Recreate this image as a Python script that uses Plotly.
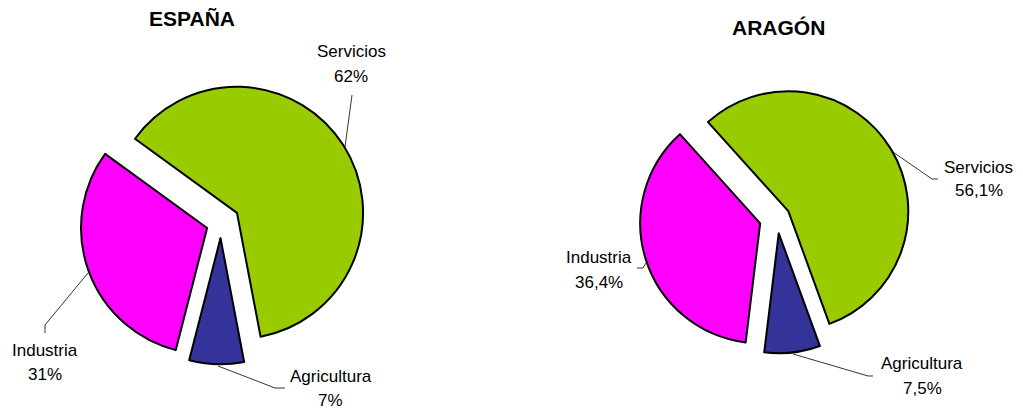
import plotly.graph_objects as go

W, H = 1023, 414

# ---- data ----
categories = ["Servicios", "Agricultura", "Industria"]
espana_values = [62, 7, 31]
aragon_values = [56.1, 7.5, 36.4]
colors = ["#99CC00", "#333399", "#FF00FF"]
titles = ["ESPAÑA", "ARAGÓN"]

FONT = "Liberation Sans, Arial, sans-serif"
LABEL_SIZE = 17


def fx(x):
    return x / W


def fy(y):
    return 1 - y / H


def pct(v):
    return f"{v:g}".replace(".", ",") + "%"


fig = go.Figure()

# España pie: center ~ (221,223), radius 126
fig.add_trace(go.Pie(
    labels=categories, values=espana_values, sort=False,
    direction="clockwise", rotation=-54,
    pull=[0.15, 0.12, 0.117],
    marker=dict(colors=colors, line=dict(color="black", width=2)),
    textinfo="none", hoverinfo="label+percent", showlegend=False,
    domain=dict(x=[fx(221 - 145), fx(221 + 145)], y=[fy(223 + 145), fy(223 - 145)]),
))

# Aragón pie: center ~ (777,218), radius 120
fig.add_trace(go.Pie(
    labels=categories, values=aragon_values, sort=False,
    direction="clockwise", rotation=-42,
    pull=[0.11, 0.128, 0.147],
    marker=dict(colors=colors, line=dict(color="black", width=2)),
    textinfo="none", hoverinfo="label+percent", showlegend=False,
    domain=dict(x=[fx(777 - 137.6), fx(777 + 137.6)], y=[fy(218 + 137.6), fy(218 - 137.6)]),
))

annotations = []
shapes = []

# titles
for t, (x, y) in zip(titles, [(191.5, 19), (778, 27.5)]):
    annotations.append(dict(text=f"<b>{t}</b>", x=fx(x), y=fy(y), xref="paper", yref="paper",
                            showarrow=False, xanchor="center", yanchor="middle",
                            font=dict(family=FONT, size=21, color="black")))

# label positions: name line, percent line, leader polyline
label_layout = {
    0: {
        "Servicios": ((351, 51), (351, 77), [(352, 95), (345, 147)]),
        "Agricultura": ((331, 376), (330, 400), [(285, 388), (275, 388), (218, 366)]),
        "Industria": ((45, 350), (45, 374), [(45, 333), (45, 325), (88, 273)]),
    },
    1: {
        "Servicios": ((978, 167), (979, 190), [(938, 179), (932, 179), (893, 152)]),
        "Agricultura": ((922, 363), (922, 388), [(873, 376), (868, 376), (793, 354)]),
        "Industria": ((599, 257), (599, 282), [(637, 268), (643, 268), (646, 263)]),
    },
}

for i, vals in enumerate([espana_values, aragon_values]):
    for cat, v in zip(categories, vals):
        (nx, ny), (px, py), pts = label_layout[i][cat]
        annotations.append(dict(text=cat, x=fx(nx), y=fy(ny), xref="paper", yref="paper",
                                showarrow=False, xanchor="center", yanchor="middle",
                                font=dict(family=FONT, size=LABEL_SIZE, color="black")))
        annotations.append(dict(text=pct(v), x=fx(px), y=fy(py), xref="paper", yref="paper",
                                showarrow=False, xanchor="center", yanchor="middle",
                                font=dict(family=FONT, size=LABEL_SIZE, color="black")))
        path = "M " + " L ".join(f"{fx(a):.5f},{fy(b):.5f}" for a, b in pts)
        shapes.append(dict(type="path", path=path, xref="paper", yref="paper",
                           line=dict(color="black", width=0.8)))

fig.update_layout(
    width=W, height=H,
    margin=dict(l=0, r=0, t=0, b=0),
    paper_bgcolor="white", plot_bgcolor="white",
    annotations=annotations, shapes=shapes,
    font=dict(family=FONT),
)

fig.write_html(
    "out.html",
    config={"displayModeBar": False},
    post_script="document.body.style.margin='0';document.body.style.padding='0';",
)
